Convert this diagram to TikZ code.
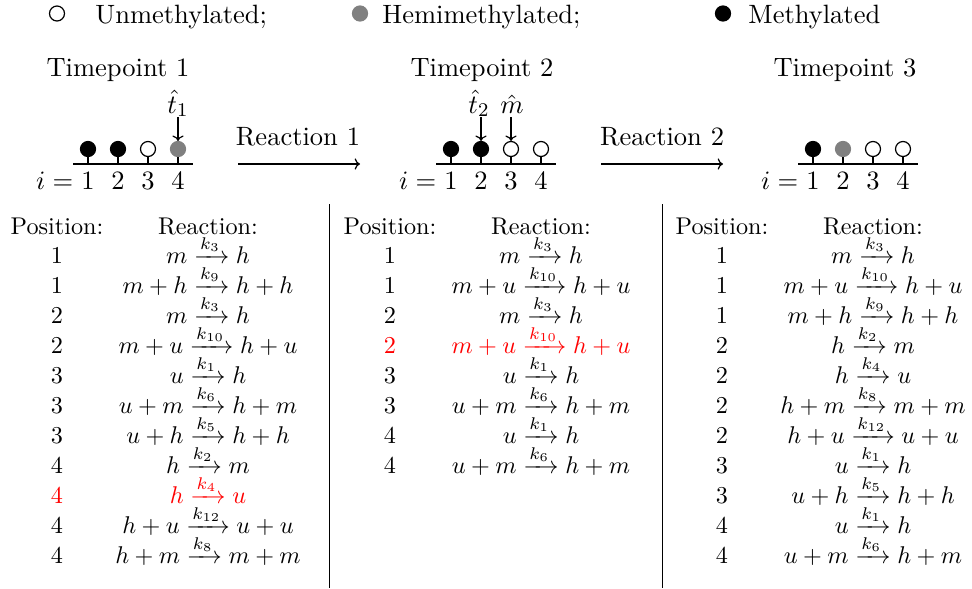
\documentclass[tikz,border=0pt]{standalone}
\usepackage{amsmath}
\usetikzlibrary{arrows.meta}
\tikzset{
  site/.style={circle, inner sep=0pt, minimum size=6.2pt, line width=0.5pt},
  unm/.style={site, draw=black, fill=white},
  hemi/.style={site, draw=gray, fill=gray},
  meth/.style={site, draw=black, fill=black},
  toptxt/.style={font=\fontsize{10.95}{13}\selectfont, anchor=base, inner sep=0pt},
  tabtxt/.style={font=\fontsize{10}{12}\selectfont, anchor=base, inner sep=0pt},
  conn/.style={line width=0.5pt},
  pointer/.style={conn, -{To[length=2.2pt]}},
}
\begin{document}
\begin{tikzpicture}[x=0.41322pt, y=-0.41322pt]
\useasboundingbox (0,0) rectangle (972,588);

% legend
\node[unm]  (lu) at (57,13.5) {};
\node[toptxt, anchor=base west] (lut) at (95,23) {Unmethylated;};
\node[hemi] (lh) at (360,13.5) {};
\node[toptxt, anchor=base west] (lht) at (382,23) {Hemimethylated;};
\node[meth] (lm) at (723,13.5) {};
\node[toptxt, anchor=base west] (lmt) at (748,23) {Methylated};

% timepoint titles
\node[toptxt] (tp1) at (118,76) {Timepoint 1};
\node[toptxt] (tp2) at (482,76) {Timepoint 2};
\node[toptxt] (tp3) at (845,76) {Timepoint 3};

% molecules
\foreach \T/\xo/\sa/\sb/\sc/\sd in {A/88/meth/meth/unm/hemi, B/451/meth/meth/unm/unm, C/813/meth/hemi/unm/unm}{
  \coordinate (\T L) at (\xo-15,164);
  \coordinate (\T R) at (\xo+105,164);
  \draw[conn] (\T L) -- (\T R);
  \foreach \s [count=\i] in {\sa,\sb,\sc,\sd}{
    \node[\s] (\T\i) at ({\xo+30*(\i-1)},149) {};
    \coordinate (\T\i b) at ({\xo+30*(\i-1)},164);
    \draw[conn] (\T\i.south) -- (\T\i b);
    \node[toptxt] (\T d\i) at ({\xo+30*(\i-1)},189) {\i};
  }
  \node[toptxt, anchor=base east] (\T i) at (\xo-7,189) {$i={}$};
}

% pointers
\node[toptxt] (hat1) at (178,113) {$\hat{t}_1$};
\draw[pointer] (hat1.south -| A4) -- (A4.north);
\node[toptxt] (hat2) at (479,113) {$\hat{t}_2$};
\draw[pointer] (hat2.south -| B2) -- (B2.north);
\node[toptxt] (hatm) at (512,113) {$\hat{m}$};
\draw[pointer] (hatm.south -| B3) ++(0,4) -- (B3.north);

% reactions between timepoints
\node[toptxt] (r1) at (298,145) {Reaction 1};
\coordinate (r1s) at (238,164);
\coordinate (r1e) at (360,164);
\draw[pointer] (r1s) -- (r1e);
\node[toptxt] (r2) at (662,145) {Reaction 2};
\coordinate (r2s) at (601,164);
\coordinate (r2e) at (723,164);
\draw[pointer] (r2s) -- (r2e);

% dividers
\coordinate (v1t) at (329.5,204); \coordinate (v1b) at (329.5,588);
\coordinate (v2t) at (662.5,204); \coordinate (v2b) at (662.5,588);
\draw[conn] (v1t) -- (v1b);
\draw[conn] (v2t) -- (v2b);

% table headers
\foreach \T/\px/\ex in {A/57/208, B/390/541, C/722/873}{
  \node[tabtxt] (\T ph) at (\px,234) {Position:};
  \node[tabtxt] (\T eh) at (\ex,234) {Reaction:};
}

% table 1
\foreach \p/\e/\c [count=\k from 0] in {
  1/{m \xrightarrow{k_3} h}/black,
  1/{m+h \xrightarrow{k_9} h+h}/black,
  2/{m \xrightarrow{k_3} h}/black,
  2/{m+u \xrightarrow{k_{10}} h+u}/black,
  3/{u \xrightarrow{k_1} h}/black,
  3/{u+m \xrightarrow{k_6} h+m}/black,
  3/{u+h \xrightarrow{k_5} h+h}/black,
  4/{h \xrightarrow{k_2} m}/black,
  4/{h \xrightarrow{k_4} u}/red,
  4/{h+u \xrightarrow{k_{12}} u+u}/black,
  4/{h+m \xrightarrow{k_8} m+m}/black}{
  \node[tabtxt, text=\c] (Ap\k) at (57,{263+30*\k}) {\p};
  \node[tabtxt, text=\c] (Ae\k) at (208,{263+30*\k}) {$\e$};
}

% table 2
\foreach \p/\e/\c [count=\k from 0] in {
  1/{m \xrightarrow{k_3} h}/black,
  1/{m+u \xrightarrow{k_{10}} h+u}/black,
  2/{m \xrightarrow{k_3} h}/black,
  2/{m+u \xrightarrow{k_{10}} h+u}/red,
  3/{u \xrightarrow{k_1} h}/black,
  3/{u+m \xrightarrow{k_6} h+m}/black,
  4/{u \xrightarrow{k_1} h}/black,
  4/{u+m \xrightarrow{k_6} h+m}/black}{
  \node[tabtxt, text=\c] (Bp\k) at (390,{263+30*\k}) {\p};
  \node[tabtxt, text=\c] (Be\k) at (541,{263+30*\k}) {$\e$};
}

% table 3
\foreach \p/\e/\c [count=\k from 0] in {
  1/{m \xrightarrow{k_3} h}/black,
  1/{m+u \xrightarrow{k_{10}} h+u}/black,
  1/{m+h \xrightarrow{k_9} h+h}/black,
  2/{h \xrightarrow{k_2} m}/black,
  2/{h \xrightarrow{k_4} u}/black,
  2/{h+m \xrightarrow{k_8} m+m}/black,
  2/{h+u \xrightarrow{k_{12}} u+u}/black,
  3/{u \xrightarrow{k_1} h}/black,
  3/{u+h \xrightarrow{k_5} h+h}/black,
  4/{u \xrightarrow{k_1} h}/black,
  4/{u+m \xrightarrow{k_6} h+m}/black}{
  \node[tabtxt, text=\c] (Cp\k) at (722,{263+30*\k}) {\p};
  \node[tabtxt, text=\c] (Ce\k) at (873,{263+30*\k}) {$\e$};
}
\end{tikzpicture}
\end{document}
